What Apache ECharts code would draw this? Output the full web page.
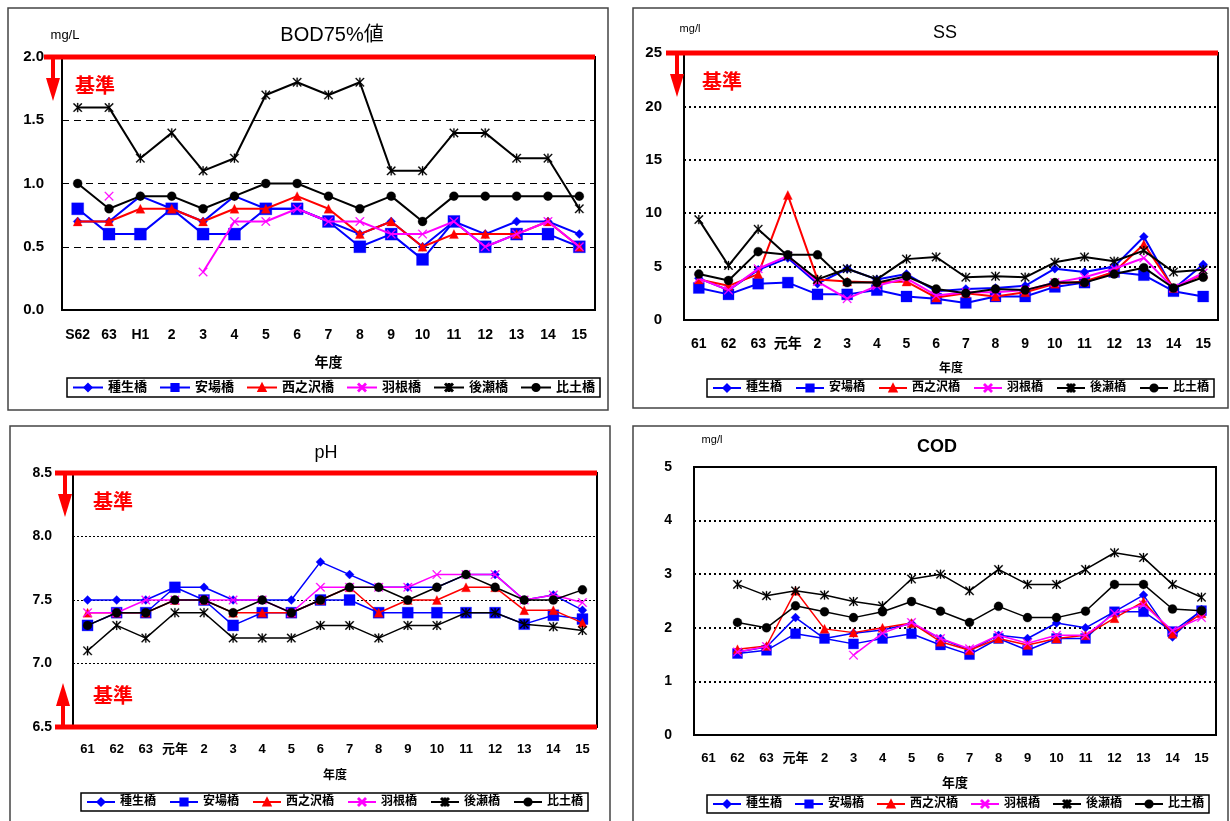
<!DOCTYPE html>
<html><head><meta charset="utf-8">
<script src="https://cdn.jsdelivr.net/npm/echarts@6/dist/echarts.min.js"></script>
<style>html,body{margin:0;padding:0;background:#fff}#c{width:1230px;height:821px}</style>
</head><body><div id="c"></div>
<script>
// ---- data ----
const seriesNames = ['種生橋','安場橋','西之沢橋','羽根橋','後瀬橋','比土橋'];

const bodCategories = ['S62','63','H1','2','3','4','5','6','7','8','9','10','11','12','13','14','15'];
const bodTane   = [0.7,0.7,0.9,0.8,0.7,0.9,0.8,0.8,0.7,0.6,0.7,0.5,0.7,0.6,0.7,0.7,0.6];
const bodYasuba = [0.8,0.6,0.6,0.8,0.6,0.6,0.8,0.8,0.7,0.5,0.6,0.4,0.7,0.5,0.6,0.6,0.5];
const bodNishi  = [0.7,0.7,0.8,0.8,0.7,0.8,0.8,0.9,0.8,0.6,0.7,0.5,0.6,0.6,0.6,0.7,0.5];
const bodHane   = [null,0.9,null,null,0.3,0.7,0.7,0.8,0.7,0.7,0.6,0.6,0.7,0.5,0.6,0.7,0.5];
const bodNochi  = [1.6,1.6,1.2,1.4,1.1,1.2,1.7,1.8,1.7,1.8,1.1,1.1,1.4,1.4,1.2,1.2,0.8];
const bodHido   = [1.0,0.8,0.9,0.9,0.8,0.9,1.0,1.0,0.9,0.8,0.9,0.7,0.9,0.9,0.9,0.9,0.9];
const bodYTicks = {min:0, max:2.0, interval:0.5, standard:2.0};

const yearCategories = ['61','62','63','元年','2','3','4','5','6','7','8','9','10','11','12','13','14','15'];

const ssTane   = [3.9,2.8,4.7,5.8,3.4,4.8,3.8,4.3,2.7,2.9,3.0,3.2,4.8,4.5,5.0,7.8,2.9,5.2];
const ssYasuba = [3.0,2.4,3.4,3.5,2.4,2.4,2.8,2.2,2.0,1.6,2.2,2.2,3.1,3.5,4.5,4.2,2.7,2.2];
const ssNishi  = [3.8,3.2,4.3,11.7,3.8,3.6,3.5,3.6,2.1,2.5,2.2,2.6,3.4,3.6,4.5,7.1,3.0,4.3];
const ssHane   = [3.9,2.8,4.8,6.0,3.6,2.0,3.2,3.9,2.3,2.6,2.6,2.8,3.5,4.0,4.8,5.8,3.0,4.4];
const ssNochi  = [9.4,5.1,8.5,6.0,3.8,4.8,3.8,5.7,5.9,4.0,4.1,4.0,5.4,5.9,5.5,6.5,4.5,4.7];
const ssHido   = [4.3,3.7,6.4,6.1,6.1,3.5,3.5,4.1,2.9,2.5,2.9,2.8,3.5,3.5,4.3,4.9,3.0,4.0];
const ssYTicks = {min:0, max:25, interval:5, standard:25};

const phTane   = [7.5,7.5,7.5,7.6,7.6,7.5,7.5,7.5,7.8,7.7,7.6,7.6,7.6,7.7,7.7,7.5,7.54,7.42];
const phYasuba = [7.3,7.4,7.4,7.6,7.5,7.3,7.4,7.4,7.5,7.5,7.4,7.4,7.4,7.4,7.4,7.31,7.38,7.35];
const phNishi  = [7.4,7.4,7.4,7.5,7.5,7.4,7.4,7.4,7.5,7.6,7.4,7.5,7.5,7.6,7.6,7.42,7.42,7.32];
const phHane   = [7.4,7.4,7.5,7.5,7.5,7.5,7.5,7.4,7.6,7.6,7.6,7.6,7.7,7.7,7.7,7.5,7.54,7.48];
const phNochi  = [7.1,7.3,7.2,7.4,7.4,7.2,7.2,7.2,7.3,7.3,7.2,7.3,7.3,7.4,7.4,7.31,7.29,7.26];
const phHido   = [7.3,7.4,7.4,7.5,7.5,7.4,7.5,7.4,7.5,7.6,7.6,7.5,7.6,7.7,7.6,7.5,7.5,7.58];
const phYTicks = {min:6.5, max:8.5, interval:0.5, upper:8.5, lower:6.5};

const codTane   = [null,1.55,1.64,2.19,1.8,1.9,1.96,2.08,1.8,1.58,1.86,1.8,2.09,2.0,2.3,2.61,1.83,2.34];
const codYasuba = [null,1.52,1.58,1.89,1.8,1.7,1.8,1.89,1.68,1.5,1.8,1.58,1.8,1.8,2.3,2.3,1.93,2.32];
const codNishi  = [null,1.6,1.66,2.69,1.98,1.91,2.0,2.09,1.74,1.58,1.8,1.68,1.8,1.86,2.18,2.49,1.89,2.27];
const codHane   = [null,1.55,1.65,null,null,1.49,1.9,2.1,1.8,1.61,1.86,1.71,1.86,1.86,2.27,2.43,1.95,2.19];
const codNochi  = [null,2.81,2.6,2.69,2.61,2.49,2.41,2.91,3.0,2.69,3.09,2.81,2.81,3.09,3.4,3.31,2.81,2.57];
const codHido   = [null,2.1,2.0,2.41,2.3,2.19,2.3,2.49,2.31,2.1,2.4,2.19,2.19,2.31,2.81,2.81,2.35,2.32];
const codYTicks = {min:0, max:5, interval:1};

// ---- styles ----
const FONT = "'Liberation Sans','Noto Sans CJK JP',sans-serif";
const X_PATH = 'path://M0,0.8L0.8,0L5,4.2L9.2,0L10,0.8L5.8,5L10,9.2L9.2,10L5,5.8L0.8,10L0,9.2L4.2,5Z';
const AST_PATH = 'path://M0,0.9L0.9,0L5,4.1L9.1,0L10,0.9L5.9,5L10,9.1L9.1,10L5,5.9L0.9,10L0,9.1L4.1,5Z M4.4,0L5.6,0L5.6,10L4.4,10Z';
const styleDefs = [
  {symbol:'diamond', color:'#0000ff', size:9},
  {symbol:'rect', color:'#0000ff', size:10},
  {symbol:'triangle', color:'#ff0000', size:9},
  {symbol:X_PATH, color:'#ff00ff', size:9},
  {symbol:AST_PATH, color:'#000000', size:9},
  {symbol:'circle', color:'#000000', size:9}
];

const panels = [
  {cats: bodCategories, data:[bodTane,bodYasuba,bodNishi,bodHane,bodNochi,bodHido], ticks: bodYTicks,
   grid:{left:62, top:57, width:533, height:253}, dec:1, split:{type:[7,5], width:1.2},
   yFont:15, xFont:14, nameFont:14, nameGap:46, xMargin:18, yMargin:18, lw:2, sq:12,
   legend:{left:67, top:378, fs:13, iw:30, gap:12}},
  {cats: yearCategories, data:[ssTane,ssYasuba,ssNishi,ssHane,ssNochi,ssHido], ticks: ssYTicks,
   grid:{left:684, top:53, width:534, height:267}, dec:0, split:{type:[2,3], width:2.2},
   yFont:15, xFont:14, nameFont:12, nameGap:43, xMargin:17, yMargin:22, lw:2, sq:11,
   legend:{left:707, top:379, fs:12, iw:28, gap:13}},
  {cats: yearCategories, data:[phTane,phYasuba,phNishi,phHane,phNochi,phHido], ticks: phYTicks,
   grid:{left:73, top:473, width:524, height:254}, dec:1, split:{type:[2,2], width:1},
   yFont:14, xFont:13, nameFont:12, nameGap:43, xMargin:16, yMargin:21, lw:1.5, sq:11,
   legend:{left:81, top:793, fs:12, iw:28, gap:13}},
  {cats: yearCategories, data:[codTane,codYasuba,codNishi,codHane,codNochi,codHido], ticks: codYTicks,
   grid:{left:694, top:467, width:522, height:268}, dec:0, split:{type:[2,3], width:2.2},
   yFont:14, xFont:13, nameFont:13, nameGap:42, xMargin:17, yMargin:22, lw:1.5, sq:10,
   legend:{left:707, top:795, fs:12, iw:28, gap:12}}
];

const grids = [], xAxes = [], yAxes = [], series = [], legends = [];
panels.forEach((p, i) => {
  grids.push(Object.assign({show:true, borderColor:'#000', borderWidth:2, containLabel:false}, p.grid));
  xAxes.push({type:'category', gridIndex:i, data:p.cats, boundaryGap:true,
    axisLine:{lineStyle:{color:'#000', width:2}},
    axisTick:{inside:true, length:5, lineStyle:{color:'#000', width:1.2}},
    axisLabel:{interval:0, margin:p.xMargin, fontSize:p.xFont, fontWeight:'bold', color:'#000', fontFamily:FONT},
    name:'年度', nameLocation:'middle', nameGap:p.nameGap,
    nameTextStyle:{fontSize:p.nameFont, fontWeight:'bold', color:'#000', fontFamily:FONT}});
  yAxes.push({type:'value', gridIndex:i, min:p.ticks.min, max:p.ticks.max, interval:p.ticks.interval,
    axisLine:{show:false}, axisTick:{show:false},
    axisLabel:{margin:p.yMargin, fontSize:p.yFont, fontWeight:'bold', color:'#000', fontFamily:FONT,
      formatter: v => v.toFixed(p.dec)},
    splitLine:{show:true, lineStyle:{color:'#000', type:p.split.type, width:p.split.width}}});
  seriesNames.forEach((nm, k) => {
    const s = styleDefs[k];
    series.push({type:'line', name:nm, xAxisIndex:i, yAxisIndex:i, data:p.data[k],
      symbol:s.symbol, symbolSize: k===1 ? p.sq : s.size, showAllSymbol:true, connectNulls:false,
      lineStyle:{color:s.color, width:p.lw}, itemStyle:{color:s.color, borderColor:s.color, borderWidth:0.3},
      emphasis:{disabled:true}, animation:false, z: 3 + k});
  });
  legends.push({left:p.legend.left, top:p.legend.top, width:540, orient:'horizontal', data:seriesNames,
    itemWidth:p.legend.iw, itemHeight:9, itemGap:p.legend.gap, borderColor:'#000', borderWidth:1.5, padding:[3,5],
    selectedMode:false, textStyle:{fontSize:p.legend.fs, fontWeight:'bold', color:'#000', fontFamily:FONT}});
});

const chart = echarts.init(document.getElementById('c'), null, {renderer:'canvas'});
chart.setOption({animation:false, backgroundColor:'#fff', grid:grids, xAxis:xAxes, yAxis:yAxes,
  series:series, legend:legends});

// ---- decorations computed through the axes ----
const g = [];
const boxes = [[8,8,600,402],[633,8,595,400],[10,426,600,400],[633,426,595,400]];
boxes.forEach(b => g.push({type:'rect', shape:{x:b[0], y:b[1], width:b[2], height:b[3]},
  style:{fill:'none', stroke:'#444', lineWidth:1.5}, z:0, silent:true}));

function txt(x, y, t, fs, color, weight, align) {
  g.push({type:'text', x:x, y:y, style:{text:t, fontSize:fs, fill:color||'#000', fontWeight:weight||'normal',
    fontFamily:FONT, align:align||'center', verticalAlign:'middle'}, z:50, silent:true});
}
function standard(pi, value, dir, arrowDx, labelDx) {
  const gr = panels[pi].grid;
  const py = chart.convertToPixel({yAxisIndex:pi}, value);
  const x0 = gr.left - 18, x1 = gr.left + gr.width;
  g.push({type:'line', shape:{x1:x0, y1:py, x2:x1, y2:py}, style:{stroke:'#ff0000', lineWidth:5}, z:40, silent:true});
  const ax = gr.left - arrowDx;
  g.push({type:'line', shape:{x1:ax, y1:py, x2:ax, y2:py + dir*24}, style:{stroke:'#ff0000', lineWidth:4}, z:40, silent:true});
  g.push({type:'polygon', shape:{points:[[ax-7, py+dir*21],[ax+7, py+dir*21],[ax, py+dir*44]]},
    style:{fill:'#ff0000'}, z:40, silent:true});
  txt(gr.left + labelDx, py + dir*30, '基準', 20, '#ff0000', 'bold');
}
standard(0, bodYTicks.standard, 1, 9, 33);
standard(1, ssYTicks.standard, 1, 7, 38);
standard(2, phYTicks.upper, 1, 8, 40);
standard(2, phYTicks.lower, -1, 10, 40);

txt(332, 35, 'BOD75%値', 20, '#000', 'normal');
txt(65, 35, 'mg/L', 13, '#000', 'normal');
txt(945, 33, 'SS', 18, '#000', 'normal');
txt(690, 29, 'mg/l', 11, '#000', 'normal');
txt(326, 453, 'pH', 18, '#000', 'normal');
txt(937, 447, 'COD', 18, '#000', 'bold');
txt(712, 440, 'mg/l', 11, '#000', 'normal');

chart.setOption({graphic: g});
</script></body></html>
